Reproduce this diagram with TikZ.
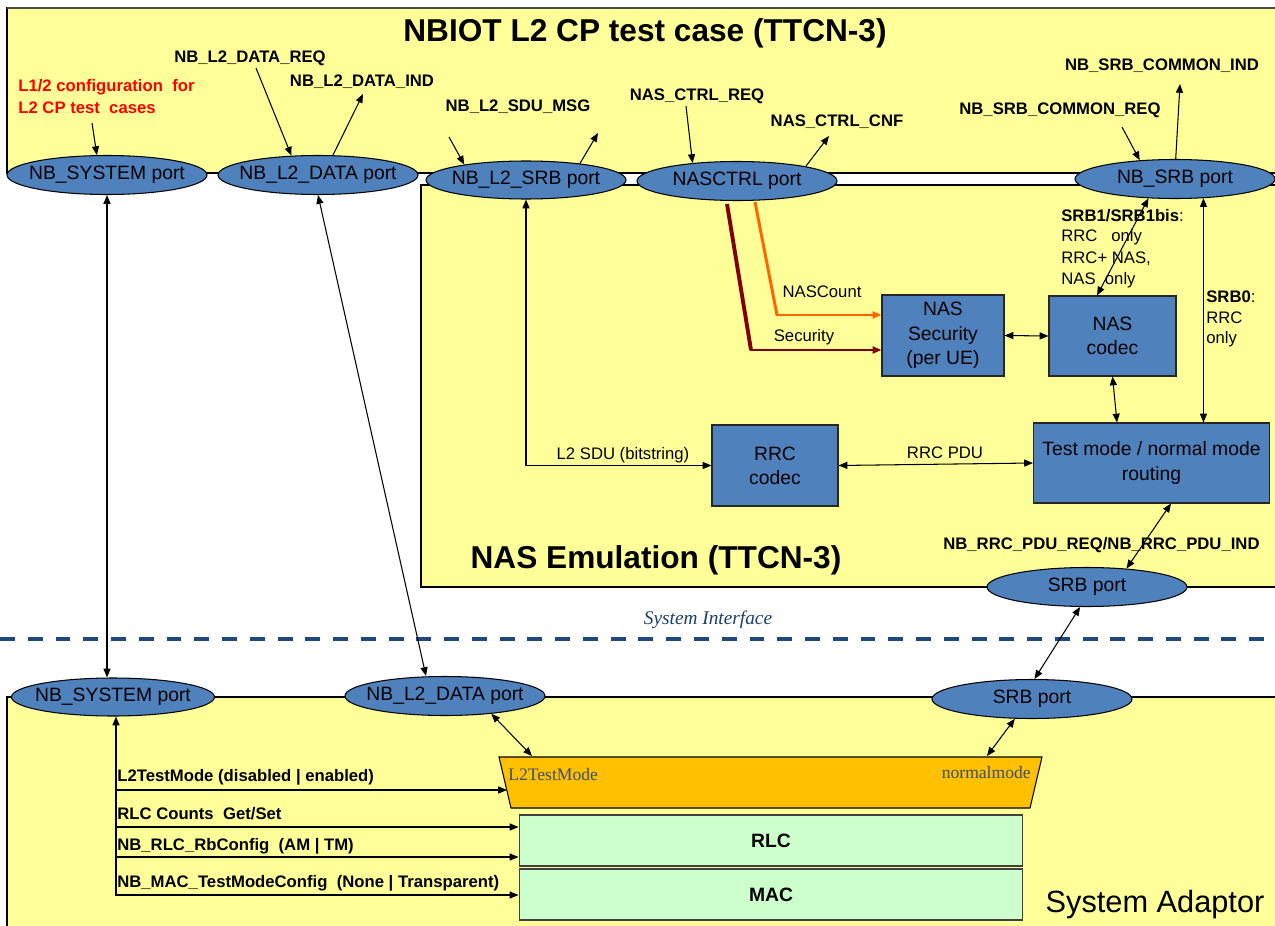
\documentclass[tikz,border=0pt]{standalone}
\usepackage{fontspec}
\setmainfont{Liberation Sans}
\newfontfamily\tnr{Liberation Serif}
\usetikzlibrary{arrows.meta,calc,shapes.geometric}
\definecolor{ylw}{HTML}{FFFF99}
\definecolor{blu}{HTML}{4F81BD}
\definecolor{grn}{HTML}{CCFFCC}
\definecolor{org}{HTML}{FFC000}
\definecolor{drk}{HTML}{800000}
\definecolor{orl}{HTML}{FF6600}
\definecolor{dsh}{HTML}{1F497D}
\definecolor{slate}{HTML}{3D4F73}
\newcommand{\fsz}[2]{\fontsize{#1}{#2}\selectfont}
\newcommand{\ptx}[1]{\makebox[0pt]{#1}}
\begin{document}
\begin{tikzpicture}[x=0.02cm,y=-0.02cm,
  port/.style={ellipse, draw=black, line width=0.6pt, fill=blu, inner sep=0pt,
    minimum width=4cm, minimum height=0.78cm, font=\fsz{11}{13}},
  blk/.style={draw=black!85, fill=blu, line width=0.6pt, align=center, inner sep=0pt,
    font=\fsz{11}{13.8}},
  lay/.style={draw=black!75, fill=grn, line width=0.6pt, inner sep=0pt,
    minimum width=10.08cm, minimum height=1.02cm, font=\bfseries\fsz{11}{13}},
  lbl/.style={inner sep=0pt, font=\bfseries\fsz{9.5}{12}},
  txt/.style={inner sep=0pt, font=\fsz{9.5}{12}},
  con/.style={line width=0.6pt, -{Triangle[length=5pt,width=4pt]}},
  bicon/.style={line width=0.6pt, {Triangle[length=5pt,width=4pt]}-{Triangle[length=5pt,width=4pt]}},
  tmtxt/.style={inner sep=0pt, font=\tnr\fsz{10}{12}, text=slate}
]
\clip (0,0) rectangle (1275,926);
\fill[white] (0,0) rectangle (1275,926);

% containers
\draw[fill=ylw, draw=black, line width=0.6pt] (7,8) rectangle (1290,173);
\draw[black!70, line width=1.5pt] (7,8) -- (1290,8);
\draw[fill=ylw, draw=black, line width=0.6pt] (421,185) rectangle (1290,587);
\draw[fill=ylw, draw=black, line width=0.6pt] (7,697) rectangle (1290,940);

% dashed system interface
\draw[dsh, line width=2.3pt, dash pattern=on 8.5pt off 7.3pt] (0,639) -- (1275,639);
\node[font=\tnr\itshape\fsz{11}{13}, text=dsh!85!black, inner sep=0pt] (si) at (708,620) {System Interface};

% titles
\node[font=\bfseries\fsz{18}{20}, inner sep=0pt] (title) at (645,33) {NBIOT L2 CP test case (TTCN-3)};
\node[font=\bfseries\fsz{18}{20}, inner sep=0pt] (ne) at (656,560) {NAS Emulation (TTCN-3)};
\node[font=\fsz{17.5}{20}, inner sep=0pt] (sa) at (1155,905) {System Adaptor};

% ports
\node[port] (sysT) at (107,175) {\ptx{NB\_SYSTEM port}};
\node[port] (dataT) at (318,175) {\ptx{NB\_L2\_DATA port}};
\node[port, minimum height=0.76cm] (srbL2) at (526,180) {\ptx{NB\_L2\_SRB port}};
\node[port] (nasctrl) at (737,181) {\ptx{NASCTRL port}};
\node[port] (nbsrb) at (1175,179) {\ptx{NB\_SRB port}};
\node[port] (srbU) at (1087,587) {\ptx{SRB port}};
\node[port, minimum height=0.76cm, minimum width=4.06cm] (sysB) at (113,697) {\ptx{NB\_SYSTEM port}};
\node[port] (dataB) at (445,696) {\ptx{NB\_L2\_DATA port}};
\node[port] (srbB) at (1032,699) {\ptx{SRB port}};

% NAS emulation blocks
\node[blk, minimum width=2.44cm, minimum height=1.62cm] (nassec) at (943,335.5) {NAS\\Security\\(per UE)};
\node[blk, minimum width=2.54cm, minimum height=1.6cm] (nascodec) at (1112.5,336) {NAS\\codec};
\node[blk, minimum width=2.52cm, minimum height=1.62cm] (rrc) at (775,465.5) {RRC\\codec};
\node[blk, minimum width=4.72cm, minimum height=1.6cm] (route) at (1151.5,463) {Test mode / normal mode\\routing};

% system adaptor layers
\draw[fill=org, draw=black, line width=0.6pt] (499,757) coordinate (tTL) -- (1042,757) coordinate (tTR)
  -- (1030,808) coordinate (tBR) -- (511,808) coordinate (tBL) -- cycle;
\node[tmtxt, anchor=west] (tm1) at (508,774) {L2TestMode};
\node[tmtxt, anchor=east] (tm2) at (1031,772) {normalmode};
\node[lay] (rlc) at (771,840.5) {RLC};
\node[lay] (mac) at (771,894.5) {MAC};

% top labels
\node[txt, font=\bfseries\fsz{9.5}{12}, text=red, anchor=west] (cfg1) at (18,87) {L1/2 configuration\ \ for};
\node[txt, font=\bfseries\fsz{9.5}{12}, text=red, anchor=west] (cfg2) at (18,108) {L2 CP test\ \ cases};
\node[lbl] (lreq) at (250,58) {NB\_L2\_DATA\_REQ};
\node[lbl] (lind) at (362,82) {NB\_L2\_DATA\_IND};
\node[lbl] (lsdu) at (518,107) {NB\_L2\_SDU\_MSG};
\node[lbl] (lncr) at (697,96) {NAS\_CTRL\_REQ};
\node[lbl] (lncc) at (837,122) {NAS\_CTRL\_CNF};
\node[lbl] (lsci) at (1162,66) {NB\_SRB\_COMMON\_IND};
\node[lbl] (lscr) at (1060,110) {NB\_SRB\_COMMON\_REQ};

% top small arrows
\coordinate (c1) at (92,123);
\draw[con] (c1) -- (sysT.117);
\coordinate (c2) at (256,68);
\draw[con] (c2) -- (dataT.144);
\coordinate (c3) at (363,94);
\draw[con] (dataT.53) -- (c3);
\coordinate (c4) at (449,137);
\draw[con] (c4) -- (srbL2.166);
\coordinate (c5) at (598,133);
\draw[con] (srbL2.17) -- (c5);
\coordinate (c6) at (686,106);
\draw[con] (c6) -- (nasctrl.158);
\coordinate (c7) at (829,136);
\draw[con] (nasctrl.12) -- (c7);
\coordinate (c8) at (1122,127);
\draw[con] (c8) -- (nbsrb.152);
\coordinate (c9) at (1180,84);
\draw[con] (nbsrb.88) -- (c9);

% long connectors
\draw[bicon] (sysT.south) -- (sysT.south |- sysB.north);
\draw[bicon] (dataT.south) -- ([xshift=-0.38cm]dataB.north);
\draw[bicon] (srbL2.south) |- (rrc.west);
\node[txt] (lsdub) at (623,455) {L2 SDU (bitstring)};

% NASCTRL lines
\coordinate (dr1) at (727,204);
\coordinate (dr2) at (751,350);
\draw[drk, line width=2.2pt] (dr1) -- (dr2);
\draw[drk, line width=1.1pt, -{Triangle[length=5pt,width=4pt]}] ([xshift=-0.5pt]dr2) -- (dr2 -| nassec.west);
\coordinate (or1) at (755,202);
\coordinate (or2) at (777,315);
\draw[orl, line width=1.7pt] (or1) -- (or2);
\draw[orl, line width=1.1pt, -{Triangle[length=5pt,width=4pt]}] ([xshift=-0.5pt]or2) -- (or2 -| nassec.west);
\node[txt] (lnc) at (822,292) {NASCount};
\node[txt] (lsec) at (804,337) {Security};

\draw[bicon] (nassec.east) -- (nascodec.west);
\draw[bicon] (nbsrb.216) -- ([xshift=-0.31cm]nascodec.north);
\draw[bicon] (nbsrb.326) -- (nbsrb.326 |- route.north);
\draw[bicon] (nascodec.south) -- ([xshift=-0.69cm]route.north);
\draw[bicon] (rrc.east) -- (route.west);
\node[txt] (lpdu) at (945,453) {RRC PDU};

\node[txt, anchor=west] (s1a) at (1061,216) {\textbf{SRB1/SRB1bis}:};
\node[txt, anchor=west] (s1b) at (1061,237) {RRC\ \ \ only};
\node[txt, anchor=west] (s1c) at (1061,259) {RRC+ NAS,};
\node[txt, anchor=west] (s1d) at (1061,280) {NAS\ \ only};
\node[txt, anchor=west] (s0a) at (1206,297) {\textbf{SRB0}:};
\node[txt, anchor=west] (s0b) at (1206,318) {RRC};
\node[txt, anchor=west] (s0c) at (1206,339) {only};

\draw[bicon] ([xshift=0.39cm]route.south) -- (srbU.25);
\node[lbl, anchor=west] (lrrc) at (943,545) {NB\_RRC\_PDU\_REQ/NB\_RRC\_PDU\_IND};
\draw[bicon] (srbU.251) -- ([xshift=0.05cm]srbB.north);

% system adaptor connectors
\coordinate (tA) at (532,756);
\draw[bicon] (dataB.339) -- (tA);
\coordinate (tB) at (987,756);
\draw[bicon] (srbB.229) -- (tB);

\coordinate (vb) at (116,896);
\draw[con] (vb) -- (vb |- sysB.south);
\coordinate (h1) at (116,790);
\coordinate (tS) at (507,790);
\draw[con] (h1) -- (tS);
\coordinate (h2) at (116,827);
\draw[con] (h2) -- (h2 -| rlc.west);
\coordinate (h3) at (116,857);
\draw[con] (h3) -- (h3 -| rlc.west);
\coordinate (h4) at (116,895);
\draw[con] (h4) -- (h4 -| mac.west);
\node[lbl, anchor=west] (b1) at (117,777) {L2TestMode (disabled | enabled)};
\node[lbl, anchor=west] (b2) at (117,814) {RLC Counts\ \ Get/Set};
\node[lbl, anchor=west] (b3) at (117,846) {NB\_RLC\_RbConfig\ \ (AM | TM)};
\node[lbl, anchor=west] (b4) at (117,883) {NB\_MAC\_TestModeConfig\ \ (None | Transparent)};
\end{tikzpicture}
\end{document}
